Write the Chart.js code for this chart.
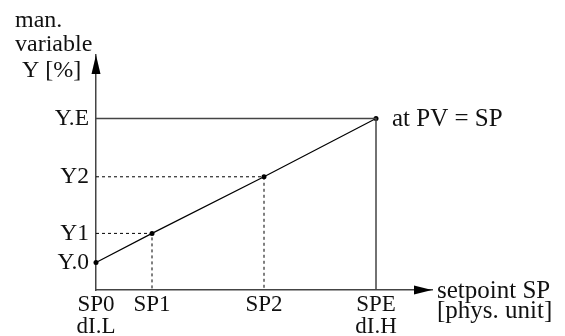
<!DOCTYPE html>
<html>
<head>
<meta charset="utf-8">
<script src="https://cdn.jsdelivr.net/npm/chart.js@4/dist/chart.umd.min.js"></script>
<style>
  html, body { margin: 0; padding: 0; background: #fff; }
  #wrap { width: 565px; height: 336px; }
</style>
</head>
<body>
<div id="wrap"><canvas id="chart"></canvas></div>
<script>
// setpoint positions (% of span SP0..SPE) and manipulated variable values (%)
const spValues = [0, 20, 60, 100];
const spLabels = [['SP0', 'dI.L'], 'SP1', 'SP2', ['SPE', 'dI.H']];
const yValues = [16, 33, 66, 100];
const yLabels = ['Y.0', 'Y1', 'Y2', 'Y.E'];
const xMax = 120;
const yMax = 137;

const FONT = '"Liberation Serif", "Times New Roman", serif';
const TEXT = '#111';

// line through the four points
const curve = spValues.map((x, i) => ({ x: x, y: yValues[i] }));
// dotted guides for Y1 / Y2
const guide1 = [{ x: 0, y: yValues[1] }, { x: spValues[1], y: yValues[1] }, { x: spValues[1], y: 0 }];
const guide2 = [{ x: 0, y: yValues[2] }, { x: spValues[2], y: yValues[2] }, { x: spValues[2], y: 0 }];
// solid frame at Y.E / SPE
const frame = [{ x: 0, y: yValues[3] }, { x: spValues[3], y: yValues[3] }, { x: spValues[3], y: 0 }];

const arrowsAndText = {
    id: 'arrowsAndText',
    afterDraw(chart) {
        const ctx = chart.ctx;
        const a = chart.chartArea;
        ctx.save();
        ctx.fillStyle = '#000';
        // y axis arrow
        ctx.beginPath();
        ctx.moveTo(a.left, a.top);
        ctx.lineTo(a.left - 4.5, a.top + 19);
        ctx.lineTo(a.left + 4.5, a.top + 19);
        ctx.closePath();
        ctx.fill();
        // x axis arrow
        ctx.beginPath();
        ctx.moveTo(a.right, a.bottom);
        ctx.lineTo(a.right - 18, a.bottom - 4.5);
        ctx.lineTo(a.right - 18, a.bottom + 4.5);
        ctx.closePath();
        ctx.fill();

        ctx.fillStyle = TEXT;
        ctx.font = '24px ' + FONT;
        ctx.textAlign = 'left';
        ctx.textBaseline = 'alphabetic';
        ctx.fillText('man.', 15, 27);
        ctx.fillText('variable', 15, 51);
        ctx.fillText('Y [%]', 22, 77);

        const xs = chart.scales.x, ys = chart.scales.y;
        ctx.font = '25px ' + FONT;
        ctx.fillText('at PV = SP', xs.getPixelForValue(100) + 16, ys.getPixelForValue(100) + 8);
        ctx.fillText('setpoint SP', a.right + 5, a.bottom + 8);
        ctx.fillText('[phys. unit]', a.right + 5, a.bottom + 28);
        ctx.restore();
    }
};

new Chart(document.getElementById('chart'), {
    type: 'scatter',
    data: {
        datasets: [
            {
                data: frame,
                showLine: true,
                borderColor: '#444',
                borderWidth: 1.5,
                pointRadius: 0,
                clip: false
            },
            {
                data: guide1,
                showLine: true,
                borderColor: '#000',
                borderWidth: 1,
                borderDash: [3, 3],
                pointRadius: 0,
                clip: false
            },
            {
                data: guide2,
                showLine: true,
                borderColor: '#000',
                borderWidth: 1,
                borderDash: [3, 3],
                pointRadius: 0,
                clip: false
            },
            {
                data: curve,
                showLine: true,
                borderColor: '#000',
                borderWidth: 1.2,
                pointRadius: 2.5,
                pointBackgroundColor: '#000',
                pointBorderWidth: 0,
                clip: false
            }
        ]
    },
    options: {
        responsive: true,
        maintainAspectRatio: false,
        animation: false,
        events: [],
        layout: { padding: { left: 0, right: 133, top: 55, bottom: 0 } },
        plugins: {
            legend: { display: false },
            tooltip: { enabled: false }
        },
        scales: {
            x: {
                type: 'linear',
                min: 0,
                max: xMax,
                grid: { display: false, drawTicks: false },
                border: { display: true, color: '#444', width: 1.5 },
                afterBuildTicks: axis => { axis.ticks = spValues.map(v => ({ value: v })); },
                afterFit: scale => { scale.height = 46; },
                ticks: {
                    autoSkip: false,
                    maxRotation: 0,
                    padding: 4,
                    color: TEXT,
                    font: { family: FONT, size: 23, lineHeight: 0.95 },
                    callback: (v) => spLabels[spValues.indexOf(v)]
                }
            },
            y: {
                type: 'linear',
                min: 0,
                max: yMax,
                grid: { display: false, drawTicks: false },
                border: { display: true, color: '#444', width: 1.5 },
                afterBuildTicks: axis => { axis.ticks = yValues.map(v => ({ value: v })); },
                afterFit: scale => { scale.width = 96; },
                ticks: {
                    autoSkip: false,
                    padding: 7,
                    color: TEXT,
                    font: { family: FONT, size: 23.5 },
                    callback: (v) => yLabels[yValues.indexOf(v)]
                }
            }
        }
    },
    plugins: [arrowsAndText]
});
</script>
</body>
</html>
